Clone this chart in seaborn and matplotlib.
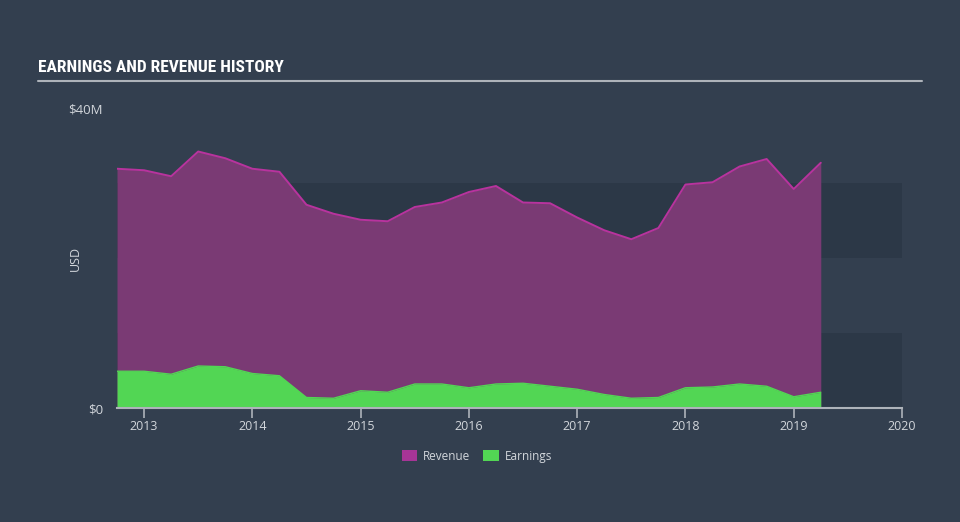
import matplotlib
matplotlib.use("Agg")
import matplotlib.pyplot as plt
import seaborn as sns
import pandas as pd
from matplotlib.patches import Patch
from matplotlib import font_manager

# ---- data (USD millions, quarterly) ----
dates = [2012.75, 2013.0, 2013.25, 2013.5, 2013.75, 2014.0, 2014.25, 2014.5, 2014.75,
         2015.0, 2015.25, 2015.5, 2015.75, 2016.0, 2016.25, 2016.5, 2016.75,
         2017.0, 2017.25, 2017.5, 2017.75, 2018.0, 2018.25, 2018.5, 2018.75,
         2019.0, 2019.25]
revenue = [31.9, 31.7, 30.9, 34.2, 33.3, 31.9, 31.5, 27.1, 25.9,
           25.1, 24.9, 26.8, 27.4, 28.8, 29.6, 27.4, 27.3,
           25.4, 23.7, 22.5, 24.0, 29.8, 30.1, 32.2, 33.2,
           29.2, 32.7]
earnings = [4.9, 4.9, 4.5, 5.6, 5.5, 4.6, 4.3, 1.4, 1.3,
            2.3, 2.1, 3.2, 3.2, 2.7, 3.2, 3.3, 2.9,
            2.5, 1.8, 1.3, 1.4, 2.7, 2.8, 3.2, 2.9,
            1.5, 2.1]
year_ticks = [2013, 2014, 2015, 2016, 2017, 2018, 2019, 2020]
y_ticks = [0, 40]
y_labels = ["$0", "$40M"]
legend_labels = ["Revenue", "Earnings"]

df = pd.DataFrame({"date": dates, "Revenue": revenue, "Earnings": earnings})

BG = "#333f4f"
BAND = "#2c3847"
REV_FILL = "#7a3a74"
REV_LINE = "#b8339e"
EARN = "#52d654"
TXT = "#d2d6db"
AXL = "#aeb3ba"

sns.set_theme(style="white")
plt.rcParams["font.family"] = ["Open Sans", "DejaVu Sans"]

available = {f.name for f in font_manager.fontManager.ttflist}
title_family = "DejaVu Sans"
title_stretch = "normal"
for cand in ["Roboto Condensed", "Liberation Sans Narrow", "Open Sans Condensed",
             "DejaVu Sans Condensed"]:
    if cand in available:
        title_family = cand
        break
else:
    if any(f.name == "DejaVu Sans" and f.stretch == "condensed" for f in font_manager.fontManager.ttflist):
        title_stretch = "condensed"

fig = plt.figure(figsize=(9.6, 5.22), dpi=100, facecolor=BG)
ax = fig.add_axes([117 / 960, 114 / 522, 785 / 960, 300 / 522])
ax.set_facecolor(BG)

x0, x1 = dates[0], 2020.0
for lo, hi in [(0, 10), (20, 30)]:
    ax.axhspan(lo, hi, xmin=0, xmax=1, color=BAND, lw=0, zorder=0)

ax.fill_between(df["date"], 0, df["Revenue"], color=REV_FILL, lw=0, zorder=2)
sns.lineplot(data=df, x="date", y="Revenue", ax=ax, color=REV_LINE, lw=1.4, zorder=3)
ax.fill_between(df["date"], 0, df["Earnings"], color=EARN, lw=0, zorder=4)
sns.lineplot(data=df, x="date", y="Earnings", ax=ax, color=EARN, lw=1.0, zorder=5)

ax.set_xlim(x0, x1)
ax.set_ylim(0, 40)
for s in ["top", "right", "left"]:
    ax.spines[s].set_visible(False)
ax.spines["bottom"].set_color(AXL)
ax.spines["bottom"].set_linewidth(1.5)
ax.spines["bottom"].set_zorder(6)

ax.set_xticks(year_ticks)
ax.set_xticklabels([str(y) for y in year_ticks])
ax.tick_params(axis="x", colors=AXL, labelcolor=TXT, length=7, width=1.2,
               direction="out", labelsize=9, pad=2, bottom=True)
ax.set_yticks(y_ticks)
ax.set_yticklabels(y_labels)
ax.tick_params(axis="y", length=0, labelcolor=TXT, labelsize=9.5, pad=10)
ax.set_xlabel("")
ax.set_ylabel("USD", color=TXT, fontsize=9)
ax.yaxis.set_label_coords(-35 / 785, 0.5)

title_size = 12.5 if title_family != "DejaVu Sans" or title_stretch == "condensed" else 10
fig.text(38 / 960, 1 - 68 / 522, "EARNINGS AND REVENUE HISTORY", color="white",
         fontsize=title_size, fontweight="bold", va="center", ha="left",
         family=[title_family, "DejaVu Sans"], fontstretch=title_stretch)
fig.add_artist(plt.Line2D([38 / 960, 922 / 960], [1 - 81 / 522, 1 - 81 / 522],
                          color=AXL, lw=1.5, transform=fig.transFigure))

handles = [Patch(facecolor="#a63596", edgecolor="none"),
           Patch(facecolor=EARN, edgecolor="none")]
fig.legend(handles, legend_labels, loc="center", bbox_to_anchor=(477 / 960, 1 - 456 / 522),
           ncol=2, frameon=False, fontsize=8.5, labelcolor=TXT, handlelength=1.3,
           handleheight=1.1, columnspacing=1.1, handletextpad=0.5)

fig.savefig("out.png", dpi=100, facecolor=BG)
